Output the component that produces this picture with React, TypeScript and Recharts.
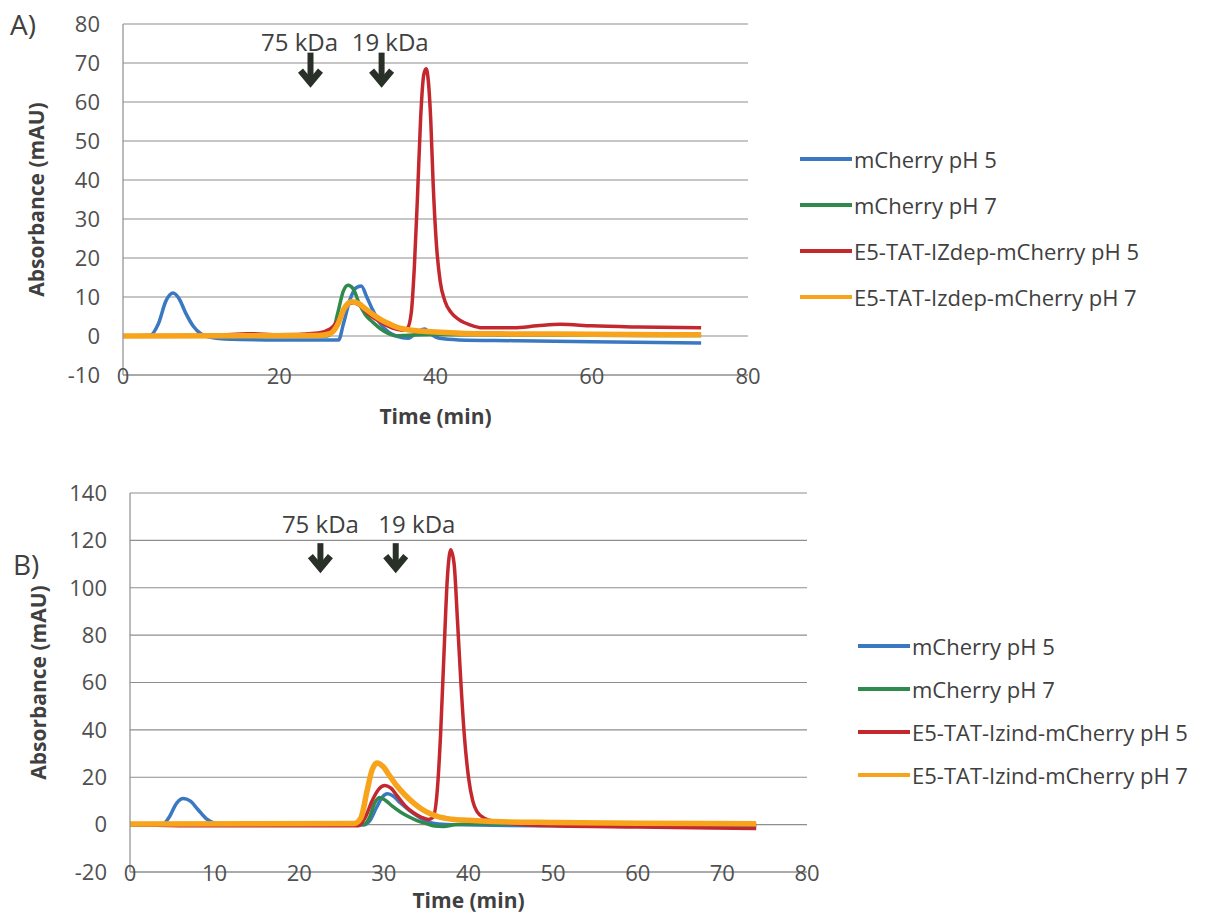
import React from 'react';
import { LineChart, Line, XAxis, YAxis, CartesianGrid, Legend, ReferenceDot } from 'recharts';

type Pt = [number, number];

// panel A: [time (min), absorbance (mAU)]
const aBlue: Pt[] = [
  [0, 0], [3.5, 0.2], [4.5, 3], [5.5, 9], [6.4, 11], [7.2, 9.5], [8, 6], [9, 2.5], [10, 0.5], [11, -0.3],
  [13, -0.8], [20, -1], [26, -1], [27.6, -1], [28.2, 3], [29, 9], [29.8, 12.3], [30.5, 12.8], [31.2, 10],
  [32, 6.5], [33, 3], [34, 1], [35, 0], [36.5, -0.6], [37.8, 1.2], [38.6, 1.8], [39.4, 0.5], [40.5, -0.6],
  [43, -1], [50, -1.2], [60, -1.5], [74, -1.8],
];
const aGreen: Pt[] = [
  [0, 0], [26, 0], [26.8, 1], [27.5, 6], [28.2, 11.5], [28.8, 13], [29.5, 12], [30.2, 8.5], [31, 5.5],
  [32, 3.5], [33, 1.8], [34, 0.6], [35, 0], [36.5, 0.2], [40, 0.4], [45, 0.3], [60, 0.2], [74, 0.1],
];
const aRed: Pt[] = [
  [0, 0], [12, 0.2], [16, 0.6], [20, 0.3], [25, 0.8], [26.5, 1.8], [27.5, 4], [28.5, 7.5], [29.5, 8.5],
  [30.5, 7.5], [31.5, 5.5], [33, 3.5], [34.5, 2], [35.8, 1.5], [36.4, 2], [36.9, 6], [37.3, 18], [37.7, 36],
  [38.1, 56], [38.5, 67], [38.8, 68.5], [39.1, 65], [39.4, 55], [39.7, 39], [40.1, 24], [40.6, 14],
  [41.2, 9], [42, 6], [43, 4.2], [44.5, 2.8], [46, 2.1], [50, 2.1], [53, 2.6], [56, 3], [60, 2.6],
  [66, 2.3], [74, 2.1],
];
const aOrange: Pt[] = [
  [0, 0], [25, 0.1], [26.5, 0.6], [27.5, 3], [28.3, 7], [29.3, 8.8], [30.2, 8.3], [31, 7], [32, 5.5],
  [33, 4.2], [34, 3.2], [35, 2.3], [36.5, 1.6], [38, 1.3], [40, 1], [45, 0.6], [55, 0.5], [65, 0.4], [74, 0.3],
];

// panel B
const bBlue: Pt[] = [
  [0, 0], [3.8, 0], [4.6, 3], [5.5, 9], [6.3, 11], [7.1, 10], [8, 6.5], [9, 2.5], [10, 0.6], [11, 0],
  [20, 0], [27.7, 0], [28.4, 2], [29.1, 7], [29.8, 11.5], [30.4, 13], [31, 12.3], [32, 9], [33, 6],
  [34, 3.5], [35, 1.5], [36, 0.5], [38, 0], [45, -0.4], [55, -0.5], [74, -0.5],
];
const bGreen: Pt[] = [
  [0, 0], [27.6, 0], [28.3, 3], [28.9, 9], [29.5, 11.5], [30.2, 10.2], [31, 7.8], [32, 5.2], [33, 3.2],
  [34, 1.6], [35, 0.4], [36, -0.6], [37, -0.8], [38.5, 0], [41, 0.4], [50, 0.1], [74, 0],
];
const bRed: Pt[] = [
  [0, 0], [10, -0.5], [27, -0.5], [27.8, 3], [28.6, 10], [29.4, 15], [30.1, 16.5], [30.8, 15.5],
  [31.6, 12], [32.5, 8], [33.5, 5], [34.5, 3], [35.3, 2.2], [35.8, 3], [36.3, 14], [36.7, 38], [37.1, 72],
  [37.5, 104], [37.9, 116], [38.3, 110], [38.7, 86], [39.1, 60], [39.5, 38], [40, 20], [40.5, 10],
  [41, 5.5], [42, 2.5], [43, 1.5], [45, 0.5], [50, -0.5], [60, -1], [74, -1.6],
];
const bOrange: Pt[] = [
  [0, 0.3], [26.5, 0.5], [27.3, 3], [28, 14], [28.6, 23], [29.2, 26], [29.9, 24.5], [30.7, 20.5],
  [31.5, 16.5], [32.5, 12.5], [33.5, 9.2], [34.5, 6.5], [35.5, 4.6], [36.5, 3.3], [38, 2.3], [40, 1.8],
  [43, 1.3], [50, 0.9], [60, 0.6], [74, 0.4],
];

const aNames = ['mCherry pH 5', 'mCherry pH 7', 'E5-TAT-IZdep-mCherry pH 5', 'E5-TAT-Izdep-mCherry pH 7'];
const bNames = ['mCherry pH 5', 'mCherry pH 7', 'E5-TAT-Izind-mCherry pH 5', 'E5-TAT-Izind-mCherry pH 7'];

const aYTicks = [-10, 0, 10, 20, 30, 40, 50, 60, 70, 80];
const aXTicks = [0, 20, 40, 60, 80];
const bYTicks = [-20, 0, 20, 40, 60, 80, 100, 120, 140];
const bXTicks = [0, 10, 20, 30, 40, 50, 60, 70, 80];

// size-marker arrows (time of elution of the standards)
const aMarkers = [
  { text: '75 kDa', textX: 22.6, arrowX: 24.0 },
  { text: '19 kDa', textX: 34.2, arrowX: 33.1 },
];
const bMarkers = [
  { text: '75 kDa', textX: 22.5, arrowX: 22.5 },
  { text: '19 kDa', textX: 33.9, arrowX: 31.4 },
];

const COLORS = ['#3b78c2', '#2f8a4d', '#c4282f', '#f7a41c'];
const WIDTHS = [3.5, 3.5, 3.5, 5.5];
const FONT = '"Open Sans", sans-serif';
const GRID = '#8e8e8e';
const TXT = '#505050';

const rows = (pts: Pt[]) => pts.map(([t, v]) => ({ t, v }));

const Arrow = (props: any) => {
  const { cx, cy, len } = props;
  if (cx == null || cy == null) return null;
  return (
    <g>
      <path d={`M${cx},${cy - len} L${cx},${cy - 5}`} stroke="#283027" strokeWidth={6} />
      <path
        d={`M${cx - 10},${cy - 15} L${cx},${cy - 3} L${cx + 10},${cy - 15}`}
        stroke="#283027"
        strokeWidth={6.5}
        fill="none"
        strokeLinejoin="miter"
      />
    </g>
  );
};

const MarkText = (props: any) => {
  const { cx, cy, text } = props;
  if (cx == null || cy == null) return null;
  return (
    <text x={cx} y={cy} textAnchor="middle" dominantBaseline="central" fontFamily={FONT} fontSize={24} fill="#404040">
      {text}
    </text>
  );
};

const XTick = (props: any) => {
  const { x, y, payload } = props;
  return (
    <text x={x} y={y} textAnchor="middle" dominantBaseline="central" fontFamily={FONT} fontSize={22} fill={TXT}>
      {payload.value}
    </text>
  );
};

const LegendBox = ({ names, rowH, lineW }: { names: string[]; rowH: number; lineW: number }) => (
  <div style={{ fontFamily: FONT, fontSize: 22, color: '#404040' }}>
    {names.map((n, i) => (
      <div key={n} style={{ height: rowH, display: 'flex', alignItems: 'center', whiteSpace: 'nowrap' }}>
        <span style={{ display: 'inline-block', width: lineW, height: 4, background: COLORS[i], marginRight: 2 }} />
        <span>{n}</span>
      </div>
    ))}
  </div>
);

type PanelProps = {
  series: Pt[][];
  names: string[];
  yTicks: number[];
  xTicks: number[];
  yDomain: [number, number];
  markers: { text: string; textX: number; arrowX: number }[];
  markTextY: number;
  arrowTipY: number;
  arrowLen: number;
  width: number;
  height: number;
  margin: { top: number; right: number; left: number; bottom: number };
  yAxisW: number;
  xAxisH: number;
  yLabelX: number;
  xLabelDy: number;
  legendPos: { left: number; top: number };
  legendRowH: number;
};

function Panel(p: PanelProps) {
  return (
    <LineChart width={p.width} height={p.height} margin={p.margin}>
      <CartesianGrid vertical={false} stroke={GRID} strokeWidth={1.2} />
      <XAxis
        type="number"
        dataKey="t"
        domain={[p.xTicks[0], p.xTicks[p.xTicks.length - 1]]}
        ticks={p.xTicks}
        allowDataOverflow
        height={p.xAxisH}
        tickSize={0}
        tickMargin={0}
        tick={<XTick />}
        stroke={GRID}
        strokeWidth={1.2}
        label={{
          content: (lp: any) => {
            const vb = lp.viewBox;
            return (
              <text
                x={vb.x + vb.width / 2}
                y={vb.y + p.xLabelDy}
                textAnchor="middle"
                dominantBaseline="central"
                fontFamily={FONT}
                fontWeight={700}
                fontSize={21}
                fill="#404040"
              >
                Time (min)
              </text>
            );
          },
        }}
      />
      <YAxis
        type="number"
        domain={p.yDomain}
        ticks={p.yTicks}
        allowDataOverflow
        width={p.yAxisW}
        tickSize={0}
        tickMargin={23}
        tick={{ fontFamily: FONT, fontSize: 22, fill: TXT }}
        stroke={GRID}
        strokeWidth={1.2}
        label={{
          content: (lp: any) => {
            const vb = lp.viewBox;
            const cx = p.yLabelX;
            const cy = vb.y + vb.height / 2;
            return (
              <text
                x={cx}
                y={cy}
                transform={`rotate(-90, ${cx}, ${cy})`}
                textAnchor="middle"
                dominantBaseline="central"
                fontFamily={FONT}
                fontWeight={700}
                fontSize={21}
                fill="#404040"
              >
                Absorbance (mAU)
              </text>
            );
          },
        }}
      />
      <Legend
        layout="vertical"
        align="center"
        verticalAlign="middle"
        wrapperStyle={{ left: p.legendPos.left, top: p.legendPos.top, width: 400 }}
        content={() => <LegendBox names={p.names} rowH={p.legendRowH} lineW={52} />}
      />
      {p.series.map((s, i) => (
        <Line
          key={p.names[i]}
          data={rows(s)}
          dataKey="v"
          name={p.names[i]}
          type="monotone"
          stroke={COLORS[i]}
          strokeWidth={WIDTHS[i]}
          dot={false}
          activeDot={false}
          isAnimationActive={false}
        />
      ))}
      {p.markers.map((m) => (
        <ReferenceDot
          key={m.text + 't'}
          x={m.textX}
          y={p.markTextY}
          ifOverflow="visible"
          shape={(sp: any) => <MarkText {...sp} text={m.text} />}
        />
      ))}
      {p.markers.map((m) => (
        <ReferenceDot
          key={m.text + 'a'}
          x={m.arrowX}
          y={p.arrowTipY}
          ifOverflow="visible"
          shape={(sp: any) => <Arrow {...sp} len={p.arrowLen} />}
        />
      ))}
    </LineChart>
  );
}

export default function App() {
  return (
    <div style={{ position: 'absolute', left: 0, top: 0, width: 1209, height: 915, background: '#fff', overflow: 'hidden' }}>
      <div style={{ position: 'absolute', left: 10, top: 5, fontFamily: FONT, fontSize: 28, color: '#404040' }}>A)</div>
      <div style={{ position: 'absolute', left: 13, top: 545, fontFamily: FONT, fontSize: 28, color: '#404040' }}>B)</div>
      <div style={{ position: 'absolute', left: 0, top: 0 }}>
        <Panel
          series={[aBlue, aGreen, aRed, aOrange]}
          names={aNames}
          yTicks={aYTicks}
          xTicks={aXTicks}
          yDomain={[-10, 80]}
          markers={aMarkers}
          markTextY={75.6}
          arrowTipY={64.2}
          arrowLen={33}
          width={1209}
          height={440}
          margin={{ top: 24, right: 461, left: 0, bottom: 0 }}
          yAxisW={123}
          xAxisH={65}
          yLabelX={36}
          xLabelDy={41}
          legendPos={{ left: 800, top: 136 }}
          legendRowH={46}
        />
      </div>
      <div style={{ position: 'absolute', left: 0, top: 465 }}>
        <Panel
          series={[bBlue, bGreen, bRed, bOrange]}
          names={bNames}
          yTicks={bYTicks}
          xTicks={bXTicks}
          yDomain={[-20, 140]}
          markers={bMarkers}
          markTextY={127}
          arrowTipY={107}
          arrowLen={28}
          width={1209}
          height={450}
          margin={{ top: 28, right: 402, left: 0, bottom: 0 }}
          yAxisW={130}
          xAxisH={43}
          yLabelX={38}
          xLabelDy={28}
          legendPos={{ left: 858, top: 159 }}
          legendRowH={43}
        />
      </div>
    </div>
  );
}
